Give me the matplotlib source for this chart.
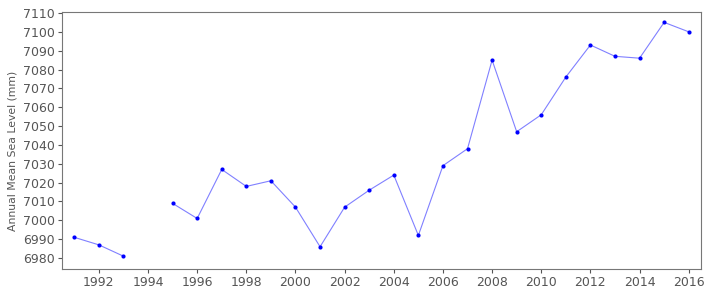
import numpy as np
from matplotlib import pyplot as plt

# annual mean sea level, 1994 missing
years = list(range(1991, 2017))
levels = [6991, 6987, 6981, np.nan, 7009, 7001, 7027, 7018, 7021, 7007,
          6986, 7007, 7016, 7024, 6992, 7029, 7038, 7085, 7047, 7056,
          7076, 7093, 7087, 7086, 7105, 7100]
xticks = list(range(1992, 2017, 2))
yticks = list(range(6980, 7111, 10))

fig = plt.figure(figsize=(7.23, 2.89), dpi=100)
ax = fig.add_axes([62 / 723, 1 - 269 / 289, 639 / 723, 257 / 289])
ax.plot(years, levels, color='#8080ff', linewidth=0.8)
ax.plot(years, levels, 'o', color='#0000ff', markersize=3, markeredgewidth=0)

ax.set_xlim(1990.5, 2016.5)
ax.set_ylim(6974.2, 7110.5)
ax.set_xticks(xticks)
ax.set_yticks(yticks)
ax.tick_params(colors='#555555', labelsize=9, length=3, width=0.8, pad=2)
for s in ax.spines.values():
    s.set_color('#777777')
ax.set_ylabel('Annual Mean Sea Level (mm)', color='#555555', fontsize=7.8)
ax.yaxis.set_label_coords(-0.07, 0.46)

fig.savefig('out.png', dpi=100)
